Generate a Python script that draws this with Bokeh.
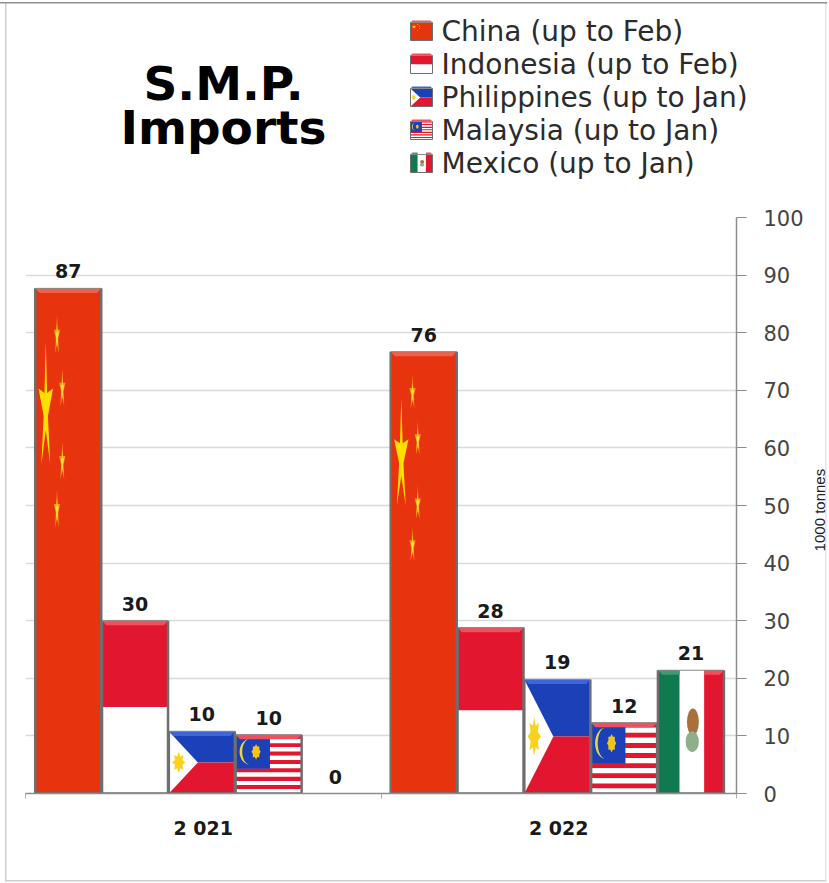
import numpy as np
from bokeh.plotting import figure
from bokeh.layouts import column, row
from bokeh.models import Range1d, FixedTicker
from bokeh.core.properties import value
from bokeh.embed import file_html
from bokeh.resources import INLINE

# ---------- data ----------
years = ["2 021", "2 022"]
china = [87.7, 76.7]
indonesia = [30.0, 28.8]
philippines = [10.8, 19.8]
malaysia = [10.2, 12.3]
mexico = [0.0, 21.4]
china_labels = ["87", "76"]
indonesia_labels = ["30", "28"]
philippines_labels = ["10", "19"]
malaysia_labels = ["10", "12"]
mexico_labels = ["0", "21"]
legend_labels = ["China (up to Feb)", "Indonesia (up to Feb)", "Philippines (up to Jan)",
                 "Malaysia (up to Jan)", "Mexico (up to Jan)"]
y_ticks = [0, 10, 20, 30, 40, 50, 60, 70, 80, 90, 100]
y_axis_title = "1000 tonnes"
title_lines = ["S.M.P.", "Imports"]

RED = "#e2162e"
CHINA_RED = "#e8330f"
BLUE = "#1c40b8"
GREEN = "#0f7a4f"
EDGE = "#6e6e6e"


def star(cx, cy, rx, ry, n=5, inner=0.38):
    a = np.pi / 2 + np.arange(2 * n) * np.pi / n
    r = np.where(np.arange(2 * n) % 2 == 0, 1.0, inner)
    return cx + rx * r * np.cos(a), cy + ry * r * np.sin(a)


def draw_flag(p, kind, x0, x1, y0, y1, bx, by, lw):
    w, h = x1 - x0, y1 - y0
    X = lambda f: x0 + f * w
    Y = lambda f: y0 + f * h   # f measured from the base of the bar
    box = lambda a, b, c, d, col: p.quad(left=X(a), right=X(b), bottom=Y(c), top=Y(d),
                                         fill_color=col, line_color=None)
    top_col = RED
    if kind == "china":
        box(0, 1, 0, 1, CHINA_RED)
        top_col = CHINA_RED
        p.patch(*star(X(0.16), Y(0.76), 0.115 * w, 0.135 * h, inner=0.3), fill_color="#ffdf00", line_color=None)
        for fx, fy in [(0.33, 0.905), (0.41, 0.80), (0.41, 0.655), (0.33, 0.56)]:
            p.patch(*star(X(fx), Y(fy), 0.05 * w, 0.042 * h), fill_color="#f59a14", line_color=None)
            p.patch(*star(X(fx), Y(fy), 0.028 * w, 0.026 * h), fill_color="#ffe23a", line_color=None)
    elif kind == "indonesia":
        box(0, 1, 0.5, 1, RED)
        box(0, 1, 0, 0.5, "#ffffff")
    elif kind == "philippines":
        box(0, 1, 0.5, 1, BLUE)
        box(0, 1, 0, 0.5, RED)
        p.patch([X(0), X(0), X(0.44)], [Y(0), Y(1), Y(0.5)], fill_color="#ffffff", line_color=None)
        p.patch(*star(X(0.15), Y(0.5), 0.10 * w, 0.17 * h, n=8, inner=0.6), fill_color="#f8d21c", line_color=None)
        top_col = BLUE
    elif kind == "malaysia":
        for i in range(14):
            box(0, 1, 1 - (i + 1) / 14, 1 - i / 14, RED if i % 2 == 0 else "#ffffff")
        box(0, 0.52, 0.42, 1, BLUE)
        t = np.linspace(0.5 * np.pi, 1.5 * np.pi, 30)
        cx, cy = X(0.22), Y(0.71)
        xs = np.r_[cx + 0.16 * w * np.cos(t), cx + 0.12 * w * np.cos(t[::-1])]
        ys = np.r_[cy + 0.22 * h * np.sin(t), cy + 0.22 * h * np.sin(t[::-1])]
        p.patch(xs, ys, fill_color="#e7d53a", line_color=None)
        p.patch(*star(X(0.31), cy, 0.07 * w, 0.13 * h, n=8, inner=0.75), fill_color="#f2c51c", line_color=None)
    elif kind == "mexico":
        box(0, 0.33, 0, 1, GREEN)
        box(0.33, 0.70, 0, 1, "#ffffff")
        box(0.70, 1, 0, 1, RED)
        p.ellipse(x=X(0.53), y=Y(0.58), width=0.18 * abs(w), height=0.22 * abs(h), fill_color="#a8703a", line_color=None)
        p.ellipse(x=X(0.52), y=Y(0.42), width=0.20 * abs(w), height=0.17 * abs(h), fill_color="#8fae8a", line_color=None)
    # bevel along the top
    if kind == "mexico":
        for a, b, col in [(0, 0.33, "#3f9a73"), (0.70, 1, "#ee5060")]:
            xl = X(a) + bx if a == 0 else X(a)
            xr = X(b) - bx if b == 1 else X(b)
            p.patch([xl, X(a), X(b), xr], [y1 - by, y1, y1, y1 - by], fill_color=col, line_color=None)
    else:
        light = {RED: "#ee5060", CHINA_RED: "#f0604a", BLUE: "#3f66d8"}[top_col]
        p.patch([x0 + bx, x0, x1, x1 - bx], [y1 - by, y1, y1, y1 - by], fill_color=light, line_color=None)
    # grey sides and a thin top edge
    p.multi_line(xs=[[x0, x0], [x1, x1], [x0, x1]], ys=[[y0, y1], [y0, y1], [y0, y0]],
                 line_color=EDGE, line_width=lw)
    p.line([x0, x1], [y1, y1], line_color="#8a8a8a", line_width=1)


# ---------- header: title and legend ----------
head = figure(width=827, height=200, x_range=Range1d(0, 827), y_range=Range1d(200, 0),
              x_axis_type=None, y_axis_type=None, toolbar_location=None, output_backend="svg",
              min_border_left=0, min_border_right=0, min_border_top=0, min_border_bottom=0,
              outline_line_color=None, border_fill_color=None, background_fill_color=None)
head.grid.visible = False
for line, mid in zip(title_lines, [83, 127]):
    head.text(x=[223], y=[mid], text=[line], text_font=value("DejaVu Sans"), text_font_style="bold",
              text_font_size="47px", text_align="center", text_baseline="middle", text_color="#000000")
kinds = ["china", "indonesia", "philippines", "malaysia", "mexico"]
for i, (kind, lab) in enumerate(zip(kinds, legend_labels)):
    base = 40 + 33 * i
    draw_flag(head, kind, 410, 432, base, base - 18, 2, 2, 1)
    head.text(x=[441], y=[base - 9], text=[lab], text_font=value("DejaVu Sans"), text_font_size="28px",
              text_align="left", text_baseline="middle", text_color="#2b2b2b")

# ---------- chart ----------
p = figure(width=810, height=682, x_range=Range1d(-0.5, 1.5), y_range=Range1d(0, 100),
           y_axis_location="right", toolbar_location=None, output_backend="svg",
           min_border_left=25, min_border_right=74, min_border_top=17, min_border_bottom=89,
           outline_line_color=None, border_fill_color=None, background_fill_color=None)
p.xgrid.visible = False
p.ygrid.grid_line_color = "#d9d9d9"
p.ygrid.grid_line_width = 1.5
p.ygrid.ticker = FixedTicker(ticks=y_ticks)

p.xaxis.ticker = FixedTicker(ticks=[0, 1], minor_ticks=[-0.5, 0.5, 1.5])
p.xaxis.major_label_overrides = {0: years[0], 1: years[1]}
p.xaxis.major_tick_line_color = None
p.xaxis.minor_tick_in = 0
p.xaxis.minor_tick_out = 5
p.xaxis.minor_tick_line_color = "#aaaaaa"
p.xaxis.axis_line_color = "#8c8c8c"
p.xaxis.axis_line_width = 1.5
p.xaxis.major_label_standoff = 17
p.xaxis.major_label_text_font = "DejaVu Sans"
p.xaxis.major_label_text_font_style = "bold"
p.xaxis.major_label_text_font_size = "19px"
p.xaxis.major_label_text_color = "#1a1a1a"

p.yaxis.ticker = FixedTicker(ticks=y_ticks)
p.yaxis.minor_tick_line_color = None
p.yaxis.major_tick_in = 0
p.yaxis.major_tick_out = 10
p.yaxis.major_tick_line_color = "#8c8c8c"
p.yaxis.axis_line_color = "#8c8c8c"
p.yaxis.axis_line_width = 1.5
p.yaxis.major_label_standoff = 17
p.yaxis.major_label_text_font = "DejaVu Sans"
p.yaxis.major_label_text_font_size = "21px"
p.yaxis.major_label_text_color = "#444444"

BAR = 66 / 355.5
STEP = 66.8 / 355.5
series = [("china", china, china_labels), ("indonesia", indonesia, indonesia_labels),
          ("philippines", philippines, philippines_labels), ("malaysia", malaysia, malaysia_labels),
          ("mexico", mexico, mexico_labels)]
for i, (kind, vals, labs) in enumerate(series):
    xs = [g + (i - 2) * STEP - 0.004 for g in range(len(years))]
    for x, v in zip(xs, vals):
        if v > 0:
            draw_flag(p, kind, x - BAR / 2, x + BAR / 2, 0, v, 0.012, 0.8, 2.5)
    p.text(x=xs, y=vals, text=labs, text_font=value("DejaVu Sans"), text_font_style="bold",
           text_font_size="19px", text_align="center", text_baseline="middle",
           text_color="#1a1a1a", y_offset=-17)

# narrow strip to the right of the axis, for the upward-reading axis title
side = figure(width=17, height=682, x_range=Range1d(0, 1), y_range=p.y_range,
              x_axis_type=None, y_axis_type=None, toolbar_location=None, output_backend="svg",
              min_border_left=0, min_border_right=0, min_border_top=17, min_border_bottom=89,
              outline_line_color=None, border_fill_color=None, background_fill_color=None)
side.grid.visible = False
side.text(x=[0.5], y=[49.2], text=[y_axis_title], angle=np.pi / 2, text_align="center", text_baseline="middle",
          text_font=value("Liberation Sans"), text_font_size="15px", text_color="#222222")

page_border = ("linear-gradient(#8f8f8f,#8f8f8f) 0 2px / 827px 1.5px no-repeat,"
               "linear-gradient(#d0d0d0,#d0d0d0) 5px 2px / 1.5px 880px no-repeat,"
               "linear-gradient(#e4e4e4,#e4e4e4) 825px 2px / 1.5px 880px no-repeat,"
               "linear-gradient(#cfcfcf,#cfcfcf) 5px 880px / 822px 1.5px no-repeat")
layout = column(column(head, spacing=0), row(p, side, spacing=0), spacing=0, styles={"background": page_border})
open("out.html", "w").write(file_html(layout, INLINE))
